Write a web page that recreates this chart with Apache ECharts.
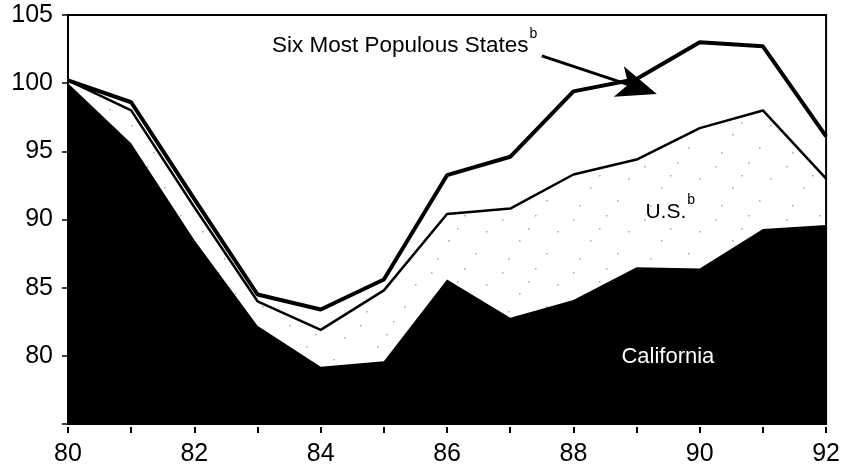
<!DOCTYPE html>
<html><head><meta charset="utf-8">
<script src="https://cdn.jsdelivr.net/npm/echarts@6/dist/echarts.min.js"></script>
<style>html,body{margin:0;padding:0;background:#fff}#c{width:843px;height:470px}</style>
</head><body><div id="c"></div><script>
// ---- data (index, 1980 = 100) ----
const years      = [80, 81, 82, 83, 84, 85, 86, 87, 88, 89, 90, 91, 92];
const sixStates  = [100.2, 98.6, 91.5, 84.5, 83.4, 85.6, 93.25, 94.6, 99.4, 100.3, 103.0, 102.7, 96.1];
const usValues   = [100.2, 98.0, 90.9, 84.0, 81.9, 84.8, 90.4, 90.8, 93.3, 94.4, 96.7, 98.0, 93.0];
const california = [100.0, 95.6, 88.5, 82.2, 79.2, 79.6, 85.6, 82.8, 84.1, 86.5, 86.4, 89.3, 89.6];
const xTickLabels = [80, 82, 84, 86, 88, 90, 92];
const yTickLabels = [80, 85, 90, 95, 100, 105];

// annotation anchors in data coordinates [year, value]
const sixLabelAt   = [83.23, 102.98];
const arrowFrom    = [87.5, 102.0];
const arrowTo      = [89.32, 99.2];
const usLabelAt    = [89.14, 90.85];
const calLabelAt   = [88.76, 79.93];

const FONT = "'Liberation Sans', Arial, Helvetica, sans-serif";

// sparse stipple texture for the U.S. band
const pat = document.createElement('canvas');
pat.width = 71; pat.height = 53;
const pc = pat.getContext('2d');
pc.fillStyle = '#a8a8a8';
[[5,7],[38,3],[60,19],[22,28],[49,41],[11,46],[31,16]].forEach(p => pc.fillRect(p[0], p[1], 1.5, 1.5));

const toPairs = arr => years.map((y, i) => [y, arr[i]]);

const chart = echarts.init(document.getElementById('c'), null, {renderer: 'canvas'});
chart.setOption({
  animation: false,
  backgroundColor: '#fff',
  grid: {left: 68, right: 15, top: 15, bottom: 46, show: true, borderColor: '#000', borderWidth: 2, backgroundColor: 'transparent'},
  xAxis: {
    type: 'value', min: 80, max: 92, interval: 1, offset: 3,
    axisLine: {show: false},
    axisTick: {show: true, length: 6, lineStyle: {color: '#000', width: 2}},
    axisLabel: {
      margin: 15, color: '#000', fontSize: 25, fontFamily: FONT,
      formatter: v => (xTickLabels.indexOf(v) >= 0 ? String(v) : '')
    },
    splitLine: {show: false}
  },
  yAxis: {
    type: 'value', min: 75, max: 105, interval: 5,
    axisLine: {show: true, lineStyle: {color: '#000', width: 2}},
    axisTick: {show: true, length: 6, lineStyle: {color: '#000', width: 1.5}},
    axisLabel: {
      margin: 15, color: '#000', fontSize: 25, fontFamily: FONT,
      formatter: v => (yTickLabels.indexOf(v) >= 0 ? String(v) : '')
    },
    splitLine: {show: false}
  },
  series: [
    {
      name: 'U.S. band', type: 'line', data: toPairs(usValues), symbol: 'none',
      lineStyle: {width: 0}, areaStyle: {color: {image: pat, repeat: 'repeat'}, opacity: 1, origin: 'start'},
      z: 1
    },
    {
      name: 'California', type: 'line', data: toPairs(california), symbol: 'none',
      lineStyle: {width: 0}, areaStyle: {color: '#000', opacity: 1, origin: 'start'},
      z: 2
    },
    {
      name: 'U.S.', type: 'line', data: toPairs(usValues), symbol: 'none',
      lineStyle: {color: '#000', width: 2.5}, z: 3
    },
    {
      name: 'Six Most Populous States', type: 'line', data: toPairs(sixStates), symbol: 'none',
      lineStyle: {color: '#000', width: 4}, z: 4
    }
  ]
});

const px = p => chart.convertToPixel({xAxisIndex: 0, yAxisIndex: 0}, p);
const s = px(sixLabelAt), a0 = px(arrowFrom), a1 = px(arrowTo), u = px(usLabelAt), c = px(calLabelAt);
const dx = a1[0] - a0[0], dy = a1[1] - a0[1], L = Math.hypot(dx, dy);
const ux = dx / L, uy = dy / L, nx = -uy, ny = ux;
const headLen = 40, headW = 16, notch = 30;
const back = [a1[0] - headLen * ux, a1[1] - headLen * uy];
const notchPt = [a1[0] - notch * ux, a1[1] - notch * uy];

const supRich = {
  m: {fontSize: 22.5, fontFamily: FONT, lineHeight: 30, verticalAlign: 'bottom'},
  mu: {fontSize: 21, fontFamily: FONT, lineHeight: 30, verticalAlign: 'bottom'},
  sup: {fontSize: 14, fontFamily: FONT, lineHeight: 14, verticalAlign: 'top', padding: [0, 0, 0, 1]}
};

chart.setOption({
  graphic: [
    {type: 'text', x: s[0], y: s[1], z: 10, style: {text: '{m|Six Most Populous States}{sup|b}', rich: supRich, fill: '#000', verticalAlign: 'middle', align: 'left'}},
    {type: 'line', z: 10, shape: {x1: a0[0], y1: a0[1], x2: notchPt[0], y2: notchPt[1]}, style: {stroke: '#000', lineWidth: 3}},
    {type: 'polygon', z: 10, shape: {points: [a1, [back[0] + headW * nx, back[1] + headW * ny], notchPt, [back[0] - headW * nx, back[1] - headW * ny]]}, style: {fill: '#000'}},
    {type: 'text', x: u[0], y: u[1], z: 10, style: {text: '{mu|U.S.}{sup|b}', rich: supRich, fill: '#000', verticalAlign: 'middle', align: 'left'}},
    {type: 'text', x: c[0], y: c[1], z: 10, style: {text: 'California', font: '22px ' + FONT, fill: '#fff', verticalAlign: 'middle', align: 'left'}}
  ]
});
</script></body></html>
